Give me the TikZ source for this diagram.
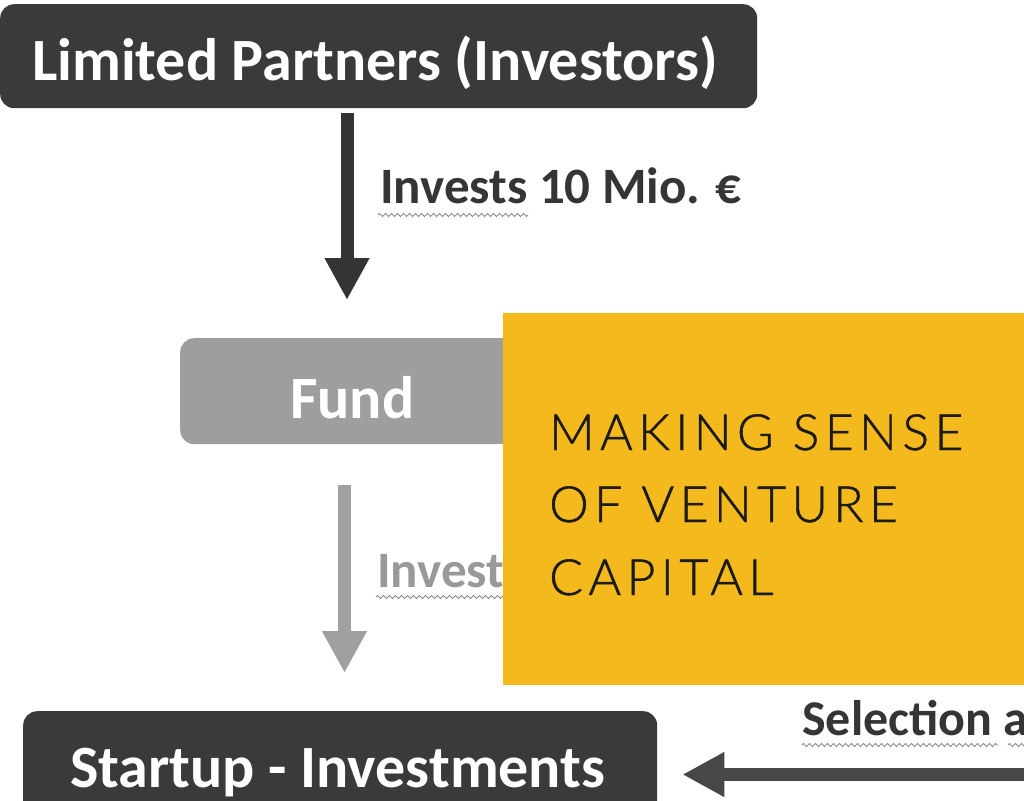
\documentclass[tikz,border=0pt]{standalone}
\usepackage{fontspec}
\setmainfont{Carlito}
\IfFontExistsTF{Lato Light}{\newfontfamily\titlefont{Lato Light}[LetterSpace=10.8,FakeBold=0.8]}{\newfontfamily\titlefont{Lato}[LetterSpace=10.8]}
\usetikzlibrary{arrows.meta,decorations.pathmorphing}
\definecolor{darkbox}{HTML}{3A3A3A}
\definecolor{darkarrow}{HTML}{343434}
\definecolor{grayfill}{HTML}{9E9E9E}
\definecolor{grayarrow}{HTML}{A0A0A0}
\definecolor{graytext}{HTML}{999999}
\definecolor{vcyellow}{HTML}{F4B91C}
\definecolor{titleink}{HTML}{1C1A17}
\definecolor{leftarrow}{HTML}{474747}
\definecolor{labelink}{HTML}{353535}
\definecolor{squig}{HTML}{8A8A8A}
\tikzset{
  boxshape/.style={rounded corners=14pt, inner sep=0pt, anchor=north west},
  boxtext/.style={anchor=base west, inner sep=0pt, text=white, font=\fontsize{60}{60}\selectfont\bfseries},
  labeltext/.style={anchor=base west, inner sep=0pt, font=\fontsize{51}{51}\selectfont\bfseries},
  titletext/.style={anchor=base west, inner sep=0pt, text=titleink, font=\fontsize{50}{50}\titlefont},
  bigarrow/.style={line width=13pt, -{Triangle[length=42pt,width=42pt]}},
  squiggle/.style={squig, line width=0.9pt, decorate, decoration={zigzag, amplitude=1.6pt, segment length=6pt}}
}
\begin{document}
\begin{tikzpicture}[x=1pt,y=-1pt]
\useasboundingbox (0,0) rectangle (1024,800);
\clip (0,0) rectangle (1024,800);
% boxes
\node[boxshape, fill=darkbox, minimum width=757pt, minimum height=104pt] (lp) at (0,4) {};
\node[boxtext] (lptext) at (32,80) {Limited Partners (Investors)};
\node[boxshape, fill=grayfill, minimum width=340pt, minimum height=106pt] (fund) at (180,338) {};
\node[boxtext] (fundtext) at (290,418) {Fund};
\node[boxshape, fill=darkbox, minimum width=634pt, minimum height=130pt] (startup) at (23,711) {};
\node[boxtext] (startuptext) at (70,787) {Startup - Investments};
% arrow 1
\coordinate (a1) at (347,113);
\draw[bigarrow, darkarrow] (a1) -- ([yshift=38pt]a1 |- fund.north);
\node[labeltext, text=labelink] (lbl1) at (380,203) {Invests 10 Mio. €};
\draw[squiggle] (378,215) -- (528,215);
% arrow 2
\coordinate (a2) at (344.5,485);
\draw[bigarrow, grayarrow] (a2) -- ([yshift=38pt]a2 |- startup.north);
\node[labeltext, text=graytext] (lbl2) at (377,587) {Invests};
\draw[squiggle] (376,597) -- (520,597);
% arrow 3
\coordinate (a3) at (1030,774.5);
\draw[bigarrow, leftarrow] (a3) -- ([xshift=25pt]startup.east |- a3);
\node[labeltext, text=labelink, font=\fontsize{50}{50}\selectfont\bfseries] (lbl3) at (802,735) {Selection and};
\draw[squiggle] (802,745) -- (998,745);
\draw[squiggle] (1008,745) -- (1030,745);
% yellow title box
\node[fill=vcyellow, inner sep=0pt, anchor=north west, minimum width=524pt, minimum height=372pt] (title) at (503,313) {};
\node[titletext] (t1) at (549,450) {MAKING SENSE};
\node[titletext] (t2) at (549,522) {OF VENTURE};
\node[titletext] (t3) at (549,595) {CAPITAL};
\end{tikzpicture}
\end{document}
